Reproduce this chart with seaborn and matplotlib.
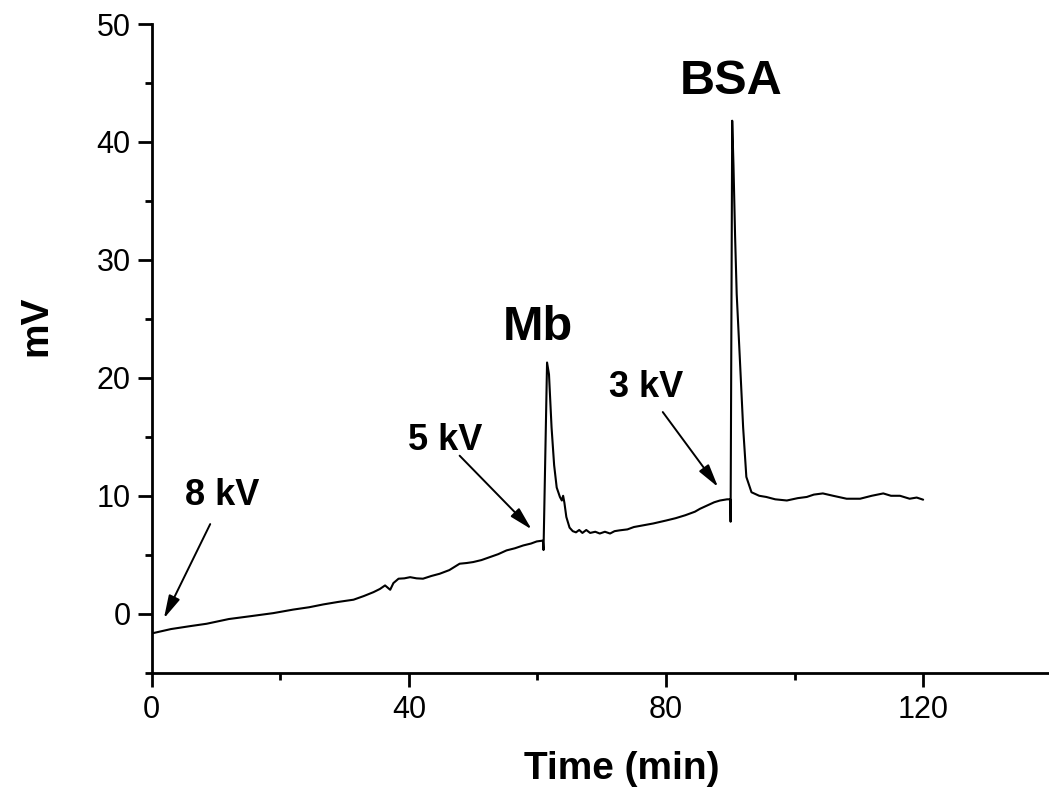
import matplotlib
matplotlib.use("Agg")
import matplotlib.pyplot as plt
import seaborn as sns
import pandas as pd
from matplotlib.ticker import MultipleLocator

# ---- data ----
time_min = [0.0, 0.25, 3.0, 6.0, 8.55, 12.0, 15.5, 18.9, 22.0, 24.5, 26.7, 29.0, 31.4,
            33.0, 34.5, 35.5, 36.3, 37.1, 37.6, 38.4, 39.3, 40.2, 41.2, 42.2, 43.5,
            44.8, 46.3, 47.9, 49.0, 50.0, 51.3, 52.6, 53.9, 55.2, 56.5, 57.8, 59.0,
            59.9, 60.85, 60.95, 61.5, 61.8, 62.2, 62.6, 63.0, 63.5, 63.8, 64.0, 64.2,
            64.5, 65.0, 65.5, 66.0, 66.5, 67.0, 67.6, 68.2, 69.0, 69.7, 70.5, 71.3,
            72.0, 72.8, 74.0, 75.0, 76.5, 78.0, 80.0, 81.5, 83.0, 84.5, 85.3, 86.5,
            87.5, 88.4, 89.5, 90.0, 90.05, 90.3, 90.5, 90.75, 91.0, 91.5, 92.0, 92.5,
            93.3, 94.5, 95.6, 97.0, 98.8, 100.5, 101.9, 103.0, 104.4, 106.0, 108.1,
            110.2, 112.0, 113.8, 115.0, 116.4, 117.9, 119.0, 120.0]
signal_mv = [-1.6, -1.64, -1.3, -1.05, -0.85, -0.45, -0.2, 0.05, 0.35, 0.55, 0.79, 1.0, 1.19,
             1.5, 1.83, 2.1, 2.4, 2.03, 2.6, 2.97, 3.0, 3.1, 3.0, 2.97, 3.2,
             3.39, 3.7, 4.24, 4.3, 4.38, 4.55, 4.8, 5.05, 5.37, 5.55, 5.79, 5.95,
             6.13, 6.2, 5.4, 21.3, 20.3, 15.8, 12.6, 10.7, 9.9, 9.6, 10.0, 9.4,
             8.2, 7.3, 7.0, 6.9, 7.1, 6.85, 7.1, 6.85, 6.95, 6.8, 6.95, 6.8,
             7.0, 7.07, 7.15, 7.35, 7.5, 7.65, 7.9, 8.1, 8.35, 8.65, 8.9, 9.2,
             9.45, 9.6, 9.7, 9.7, 7.8, 41.8, 38.0, 32.0, 27.1, 21.5, 15.8, 11.6,
             10.3, 10.0, 9.9, 9.7, 9.6, 9.8, 9.9, 10.1, 10.2, 10.0, 9.75,
             9.75, 10.0, 10.2, 10.0, 10.0, 9.75, 9.85, 9.67]

peak_labels = ["Mb", "BSA"]
peak_label_pos = [(60.1, 23.2), (90.1, 44.1)]

voltage_labels = ["8 kV", "5 kV", "3 kV"]
voltage_text_pos = [(11.0, 9.2), (45.6, 13.9), (76.9, 18.35)]
voltage_arrow_tail = [(9.1, 7.6), (47.9, 13.4), (79.5, 17.1)]
voltage_arrow_head = [(1.9, -0.4), (59.1, 7.15), (88.1, 10.74)]

x_ticks = [0, 40, 80, 120]
y_ticks = [0, 10, 20, 30, 40, 50]

# ---- style ----
sns.set_style("ticks")
plt.rcParams["font.family"] = ["Liberation Sans", "DejaVu Sans"]
plt.rcParams["text.color"] = "black"

fig = plt.figure(figsize=(10.49, 7.94), dpi=100)
ax = fig.add_axes([151.7 / 1049, 121.3 / 794, 900 / 1049, 648.7 / 794])

df = pd.DataFrame({"Time (min)": time_min, "mV": signal_mv})
sns.lineplot(data=df, x="Time (min)", y="mV", ax=ax, color="black",
             linewidth=1.5, estimator=None, sort=False)

ax.set_xlim(0, 140)
ax.set_ylim(-5, 50)
ax.set_xticks(x_ticks)
ax.set_yticks(y_ticks)
ax.xaxis.set_minor_locator(MultipleLocator(20))
ax.yaxis.set_minor_locator(MultipleLocator(5))

for s in ["top", "right"]:
    ax.spines[s].set_visible(False)
for s in ["left", "bottom"]:
    ax.spines[s].set_linewidth(2.0)
    ax.spines[s].set_color("black")

ax.tick_params(axis="both", which="major", direction="out", length=10, width=2.0,
               labelsize=22, color="black", labelcolor="black")
ax.tick_params(axis="both", which="minor", direction="out", length=5, width=2.0,
               color="black")
ax.tick_params(axis="x", which="major", pad=6)
ax.tick_params(axis="y", which="major", pad=5)

ax.set_xlabel("Time (min)", fontsize=28, fontweight="bold", color="black")
ax.xaxis.set_label_coords(0.5226, -0.12)
ax.set_ylabel("")
fig.text(36 / 1049, 1 - 326 / 794, "mV", fontsize=28, fontweight="bold",
         rotation=90, ha="center", va="center", color="black")

for lab, (x, y) in zip(peak_labels, peak_label_pos):
    ax.text(x, y, lab, fontsize=35, fontweight="bold", ha="center", va="baseline",
            color="black")

for lab, (tx, ty), tail, head in zip(voltage_labels, voltage_text_pos,
                                    voltage_arrow_tail, voltage_arrow_head):
    ax.text(tx, ty, lab, fontsize=26, fontweight="bold", ha="center", va="baseline",
            color="black")
    ax.annotate("", xy=head, xytext=tail,
                arrowprops=dict(arrowstyle="-|>,head_width=0.18,head_length=0.7",
                                lw=1.4, color="black", shrinkA=0, shrinkB=0,
                                mutation_scale=20))

fig.savefig("out.png", dpi=100)
